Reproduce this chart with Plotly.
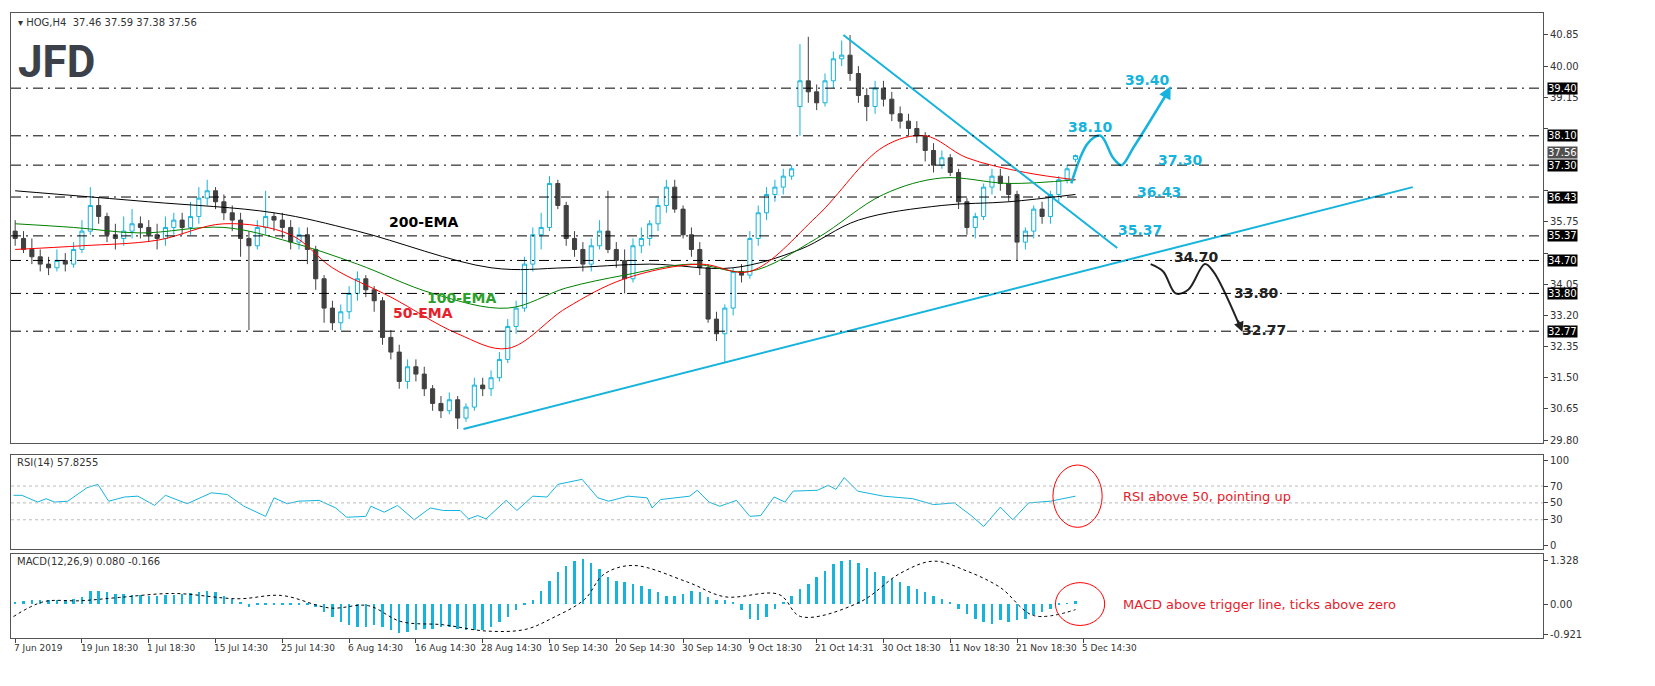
import plotly.graph_objects as go

# HOG H4 candles (bar index 0..127)
opens = [35.5, 35.3, 35.0, 34.8, 34.6, 34.5, 34.7, 34.6,
         35.0, 35.5, 36.2, 35.9, 35.4, 35.3, 35.5, 35.7,
         35.6, 35.4, 35.3, 35.6, 35.8, 35.6, 35.9, 36.4,
         36.6, 36.3, 36.0, 35.8, 35.3, 35.1, 35.6, 35.9,
         35.8, 35.6, 35.2, 35.4, 35.0, 34.2, 33.4, 33.0,
         33.3, 33.8, 34.2, 33.9, 33.6, 32.6, 32.2, 31.4,
         31.8, 31.6, 31.2, 30.8, 30.6, 30.9, 30.4, 30.7,
         31.3, 31.2, 31.5, 32.0, 32.9, 33.4, 34.6, 35.4,
         35.6, 36.8, 36.2, 35.3, 35.0, 34.6, 35.1, 35.5,
         35.0, 34.7, 34.2, 35.1, 35.3, 35.7, 36.2, 36.7,
         36.1, 35.4, 35.0, 34.5, 33.1, 32.7, 33.4, 34.4,
         34.3, 35.3, 36.0, 36.5, 36.7, 37.0, 38.9, 39.6,
         39.3, 39.0, 39.6, 40.2, 40.3, 39.8, 39.2, 38.9,
         39.4, 39.1, 38.7, 38.5, 38.3, 38.1, 37.7, 37.3,
         37.5, 37.1, 36.3, 35.6, 35.9, 36.7, 37.0, 36.8,
         36.5, 35.2, 35.5, 36.1, 35.9, 36.5, 36.9, 37.46]
highs = [35.8, 35.5, 35.3, 35.0, 34.8, 35.0, 34.9, 35.2,
         35.8, 36.7, 36.4, 36.0, 35.7, 35.9, 36.1, 35.9,
         35.8, 35.7, 35.9, 36.0, 36.0, 36.3, 36.7, 36.9,
         36.7, 36.5, 36.2, 36.0, 35.5, 35.8, 36.6, 36.0,
         36.0, 35.8, 35.6, 35.6, 35.1, 34.3, 33.6, 33.5,
         34.0, 34.4, 34.3, 34.0, 33.7, 32.8, 32.4, 32.0,
         32.0, 31.8, 31.3, 31.0, 31.1, 31.0, 30.8, 31.5,
         31.5, 31.7, 32.2, 33.1, 33.6, 34.8, 35.6, 36.0,
         37.0, 36.9, 36.3, 35.5, 35.2, 35.3, 35.8, 36.6,
         35.2, 35.0, 35.3, 35.6, 35.8, 36.4, 36.9, 36.9,
         36.2, 35.6, 35.2, 34.6, 33.3, 33.5, 34.5, 34.6,
         35.5, 36.2, 36.7, 36.9, 37.2, 37.3, 40.6, 40.8,
         39.5, 39.8, 40.4, 40.7, 40.85, 40.0, 39.4, 39.6,
         39.6, 39.3, 38.9, 38.7, 38.5, 38.2, 37.9, 37.7,
         37.6, 37.2, 36.4, 36.0, 36.8, 37.2, 37.2, 37.0,
         36.6, 35.6, 36.2, 36.3, 36.6, 37.0, 37.3, 37.59]
lows = [35.1, 34.9, 34.6, 34.4, 34.3, 34.4, 34.4, 34.5,
        34.9, 35.4, 35.7, 35.2, 35.0, 35.1, 35.3, 35.3,
        35.2, 35.0, 35.1, 35.4, 35.4, 35.4, 35.7, 36.2,
        36.1, 35.8, 35.5, 34.8, 32.8, 35.0, 35.4, 35.5,
        35.3, 35.0, 35.0, 34.6, 33.9, 33.0, 32.8, 32.8,
        33.1, 33.6, 33.7, 33.3, 32.4, 32.0, 31.2, 31.2,
        31.4, 31.0, 30.6, 30.4, 30.5, 30.1, 30.3, 30.6,
        31.0, 31.0, 31.4, 31.9, 32.7, 33.3, 34.4, 35.0,
        35.5, 36.1, 35.1, 34.8, 34.4, 34.4, 35.0, 34.9,
        34.5, 33.8, 34.1, 34.9, 35.1, 35.5, 36.0, 36.0,
        35.3, 34.8, 34.3, 33.0, 32.5, 31.9, 33.2, 34.1,
        34.2, 35.1, 35.8, 36.3, 36.5, 36.9, 38.1, 39.0,
        38.8, 38.9, 39.4, 40.0, 39.6, 39.0, 38.5, 38.7,
        38.9, 38.5, 38.3, 38.1, 37.9, 37.4, 37.1, 37.2,
        37.0, 36.1, 35.4, 35.3, 35.8, 36.5, 36.6, 36.3,
        34.7, 35.0, 35.3, 35.7, 35.7, 36.3, 36.8, 37.38]
closes = [35.3, 35.0, 34.8, 34.6, 34.5, 34.7, 34.6, 35.0,
          35.5, 36.2, 35.9, 35.4, 35.3, 35.5, 35.7, 35.6,
          35.4, 35.3, 35.6, 35.8, 35.6, 35.9, 36.4, 36.6,
          36.3, 36.0, 35.8, 35.3, 35.1, 35.6, 35.9, 35.8,
          35.6, 35.2, 35.4, 35.0, 34.2, 33.4, 33.0, 33.3,
          33.8, 34.2, 33.9, 33.6, 32.6, 32.2, 31.4, 31.8,
          31.6, 31.2, 30.8, 30.6, 30.9, 30.4, 30.7, 31.3,
          31.2, 31.5, 32.0, 32.9, 33.4, 34.6, 35.4, 35.6,
          36.8, 36.2, 35.3, 35.0, 34.6, 35.1, 35.5, 35.0,
          34.7, 34.2, 35.1, 35.3, 35.7, 36.2, 36.7, 36.1,
          35.4, 35.0, 34.5, 33.1, 32.7, 33.4, 34.4, 34.3,
          35.3, 36.0, 36.5, 36.7, 37.0, 37.2, 39.6, 39.3,
          39.0, 39.6, 40.2, 40.3, 39.8, 39.2, 38.9, 39.4,
          39.1, 38.7, 38.5, 38.3, 38.1, 37.7, 37.3, 37.5,
          37.1, 36.3, 35.6, 35.9, 36.7, 37.0, 36.8, 36.5,
          35.2, 35.5, 36.1, 35.9, 36.5, 36.9, 37.2, 37.56]
bars = list(range(len(closes)))

# moving averages, read at sparse bars
ema200_x = [0, 16, 31, 41, 57, 66, 76, 86, 94, 101, 111, 119, 127]
ema200_y = [36.6, 36.3, 36.0, 35.5, 34.5, 34.5, 34.6, 34.5, 35.0, 35.8, 36.2, 36.3, 36.5]
ema100_x = [0, 7, 15, 25, 33, 41, 50, 59, 66, 73, 81, 88, 96, 104, 111, 119, 127]
ema100_y = [35.7, 35.6, 35.45, 35.6, 35.2, 34.6, 33.8, 33.4, 33.95, 34.3, 34.6, 34.4, 35.3, 36.5, 36.95, 36.8, 36.9]
ema50_x = [0, 8, 17, 25, 33, 38, 45, 53, 59, 66, 73, 82, 88, 96, 104, 109, 114, 121, 127]
ema50_y = [35.0, 35.1, 35.25, 35.7, 35.4, 34.5, 33.7, 32.7, 32.3, 33.4, 34.2, 34.6, 34.4, 35.9, 37.8, 38.1, 37.5, 37.1, 36.9]

# RSI(14), read at sparse bars
rsi_x = [-0.2, 0.8, 2.7, 3.7, 4.7, 6.3, 8.6, 9.9, 11.2, 13.1, 14.7, 16.7, 18.0, 20.6, 23.5, 25.4,
         27.4, 30.0, 31.0, 32.6, 33.9, 36.4, 38.4, 39.7, 42.0, 42.6, 44.2, 45.8, 47.8, 49.7, 51.3,
         53.3, 54.3, 55.4, 56.4, 58.8, 60.1, 62.0, 63.7, 65.0, 67.9, 69.8, 71.1, 73.4, 75.7, 76.3,
         77.3, 80.8, 81.7, 83.1, 84.4, 86.4, 88.0, 89.3, 90.9, 92.2, 93.2, 96.1, 97.4, 98.3, 99.3,
         100.9, 104.0, 107.5, 110.0, 112.5, 114.5, 116.0, 118.0, 119.5, 121.4, 124.0, 127.0]
rsi_y = [59, 59, 51, 55, 51, 52, 68, 72, 52, 57, 58, 47, 59, 49, 62, 60,
         46, 34, 56, 49, 52, 53, 44, 33, 34, 46, 39, 47, 30, 44, 41,
         41, 31, 35, 31, 53, 41, 58, 57, 72, 78, 56, 52, 58, 56, 44,
         54, 58, 65, 51, 46, 53, 34, 35, 57, 51, 64, 65, 71, 66, 80,
         64, 58, 55, 48, 50, 35, 22, 45, 30, 50, 52, 58]

# MACD(12,26,9): main histogram per bar, signal at sparse bars
macd_main = [0.05, 0.08, 0.10, 0.12, 0.12, 0.12, 0.12, 0.15,
             0.20, 0.38, 0.40, 0.35, 0.30, 0.30, 0.28, 0.28,
             0.25, 0.25, 0.27, 0.28, 0.30, 0.32, 0.35, 0.38,
             0.35, 0.25, 0.15, 0.05, -0.10, -0.05, -0.05, -0.05,
             -0.05, -0.05, -0.05, -0.05, -0.10, -0.25, -0.40, -0.55,
             -0.65, -0.70, -0.70, -0.65, -0.70, -0.80, -0.90, -0.85,
             -0.80, -0.75, -0.75, -0.70, -0.70, -0.75, -0.80, -0.80,
             -0.80, -0.70, -0.55, -0.40, -0.20, -0.05, 0.10, 0.40,
             0.70, 0.95, 1.15, 1.30, 1.35, 1.25, 1.05, 0.80,
             0.70, 0.65, 0.60, 0.55, 0.45, 0.35, 0.25, 0.25,
             0.30, 0.40, 0.35, 0.20, 0.10, 0.10, 0.05, -0.20,
             -0.45, -0.50, -0.40, -0.15, 0.05, 0.25, 0.45, 0.60,
             0.80, 1.00, 1.20, 1.30, 1.33, 1.25, 1.10, 0.95,
             0.85, 0.75, 0.65, 0.55, 0.45, 0.35, 0.25, 0.15,
             0.05, -0.15, -0.30, -0.45, -0.55, -0.60, -0.50, -0.55,
             -0.50, -0.45, -0.35, -0.25, -0.15, -0.05, 0.02, 0.08]
signal_x = [-0.2, 3.4, 7.9, 12.5, 19.0, 26.7, 31.9, 37.7, 42.3, 46.2, 51.3, 56.5, 61.1, 64.3,
            68.2, 70.5, 74.0, 80.5, 85.0, 91.5, 94.1, 101.1, 106, 110, 114, 118, 122, 127]
signal_y = [-0.38, 0.07, 0.10, 0.20, 0.32, 0.16, 0.26, -0.12, -0.05, -0.53, -0.63, -0.82, -0.77,
            -0.43, 0.14, 0.90, 1.17, 0.67, 0.22, 0.29, -0.38, 0.05, 0.93, 1.30, 1.0, 0.5, -0.35, -0.17]

levels = [39.40, 38.10, 37.30, 36.43, 35.37, 34.70, 33.80, 32.77]
price_ticks = [40.85, 40.00, 39.15, 38.30, 36.60, 35.75, 34.90, 34.05, 33.20, 32.35, 31.50, 30.65, 29.80]
hidden_ticks = [38.30, 36.60, 34.90]   # covered by the level boxes
date_labels = ["7 Jun 2019", "19 Jun 18:30", "1 Jul 18:30", "15 Jul 14:30", "25 Jul 14:30",
               "6 Aug 14:30", "16 Aug 14:30", "28 Aug 14:30", "10 Sep 14:30", "20 Sep 14:30",
               "30 Sep 14:30", "9 Oct 18:30", "21 Oct 14:31", "30 Oct 18:30", "11 Nov 18:30",
               "21 Nov 18:30", "5 Dec 14:30"]

CYAN = '#16b3dc'
DARK = '#404040'
FONT = 'DejaVu Sans'
XR = [-0.5, 183]

fig = go.Figure()

fig.add_trace(go.Candlestick(
    x=bars, open=opens, high=highs, low=lows, close=closes,
    increasing=dict(line=dict(color=CYAN, width=1), fillcolor='white'),
    decreasing=dict(line=dict(color=DARK, width=1), fillcolor=DARK),
    whiskerwidth=0, showlegend=False, xaxis='x', yaxis='y'))

for xs, ys, col in [(ema200_x, ema200_y, 'black'), (ema100_x, ema100_y, 'green'), (ema50_x, ema50_y, 'red')]:
    fig.add_trace(go.Scatter(x=xs, y=ys, mode='lines', line=dict(color=col, width=1, shape='spline'),
                             showlegend=False, xaxis='x', yaxis='y'))

# trend lines
fig.add_trace(go.Scatter(x=[99.2, 132], y=[40.85, 35.04], mode='lines',
                         line=dict(color=CYAN, width=2), showlegend=False))
fig.add_trace(go.Scatter(x=[53.7, 167.4], y=[30.1, 36.7], mode='lines',
                         line=dict(color=CYAN, width=2), showlegend=False))

# scenario paths
fig.add_trace(go.Scatter(x=[126.5, 128.5, 130, 131.5, 132.5, 134, 137.8],
                         y=[36.8, 37.9, 38.1, 37.5, 37.3, 37.8, 39.2], mode='lines',
                         line=dict(color=CYAN, width=2.5, shape='spline'), showlegend=False))
fig.add_trace(go.Scatter(x=[136, 137.5, 139, 140.5, 142.5, 143.5, 146.6],
                         y=[34.6, 34.4, 33.8, 33.9, 34.6, 34.4, 32.95], mode='lines',
                         line=dict(color='#222222', width=2, shape='spline'), showlegend=False))

# RSI
fig.add_trace(go.Scatter(x=rsi_x, y=rsi_y, mode='lines', line=dict(color=CYAN, width=1),
                         showlegend=False, xaxis='x2', yaxis='y2'))
# MACD
fig.add_trace(go.Bar(x=bars, y=macd_main, marker=dict(color=CYAN, line=dict(width=0)), width=0.3,
                     showlegend=False, xaxis='x3', yaxis='y3'))
fig.add_trace(go.Scatter(x=signal_x, y=signal_y, mode='lines', line=dict(color='black', width=1, dash='dot', shape='spline'),
                         showlegend=False, xaxis='x3', yaxis='y3'))

shapes = []
for lv in levels:
    shapes.append(dict(type='line', xref='x domain', yref='y', x0=0, x1=1, y0=lv, y1=lv,
                       line=dict(color='black', width=1, dash='10px,5px,2px,5px')))
for lv in [30, 50, 70]:
    shapes.append(dict(type='line', xref='x2 domain', yref='y2', x0=0, x1=1, y0=lv, y1=lv,
                       line=dict(color='#bbbbbb', width=1, dash='3px,3px')))
shapes.append(dict(type='circle', xref='x2', yref='y2', x0=124.3, x1=130.2, y0=21, y1=95,
                   line=dict(color='red', width=1)))
shapes.append(dict(type='circle', xref='x3', yref='y3', x0=124.6, x1=130.5, y0=-0.65, y1=0.65,
                   line=dict(color='red', width=1)))

ann = []
# arrow heads
ann.append(dict(x=138.4, y=39.45, ax=137.6, ay=39.1, xref='x', yref='y', axref='x', ayref='y',
                showarrow=True, arrowhead=2, arrowsize=1, arrowwidth=2.5, arrowcolor=CYAN, text=''))
ann.append(dict(x=147, y=32.75, ax=146.4, ay=33.1, xref='x', yref='y', axref='x', ayref='y',
                showarrow=True, arrowhead=2, arrowsize=1, arrowwidth=2, arrowcolor='#222222', text=''))

lbl_pos = {39.40: (135.6, 39.62, CYAN), 38.10: (128.8, 38.34, CYAN), 37.30: (139.6, 37.44, CYAN),
           36.43: (137.0, 36.57, CYAN), 35.37: (134.7, 35.53, CYAN), 34.70: (141.5, 34.79, '#222222'),
           33.80: (148.7, 33.81, '#222222'), 32.77: (149.6, 32.80, '#222222')}
for lv, (bx, by, col) in lbl_pos.items():
    ann.append(dict(x=bx, y=by, xref='x', yref='y', text=f'<b>{lv:.2f}</b>', showarrow=False,
                    font=dict(family=FONT, size=14, color=col)))
for txt, bx, by, col in [('200-EMA', 49, 35.75, 'black'), ('100-EMA', 53.5, 33.67, '#2ca02c'),
                         ('50-EMA', 48.8, 33.26, '#e8202a')]:
    ann.append(dict(x=bx, y=by, xref='x', yref='y', text=f'<b>{txt}</b>', showarrow=False,
                    font=dict(family=FONT, size=14, color=col)))

# right axis level boxes
for lv in levels:
    ann.append(dict(x=1, y=lv, xref='x domain', yref='y', text=f'{lv:.2f}', showarrow=False,
                    xanchor='left', xshift=4, bgcolor='black', borderpad=0,
                    font=dict(family=FONT, size=10, color='white')))
ann.append(dict(x=1, y=37.56, xref='x domain', yref='y', text='37.56', showarrow=False,
                xanchor='left', xshift=4, yshift=3, bgcolor='#505050', borderpad=0,
                font=dict(family=FONT, size=10, color='white')))

for k, lab in enumerate(date_labels):
    ann.append(dict(x=8 * k - 0.4, y=0, xref='x3', yref='paper', yanchor='top', yshift=-3, xanchor='left',
                    text=lab, showarrow=False, font=dict(family=FONT, size=9, color='#333333')))

ann.append(dict(x=0.003, y=1, xref='paper', yref='paper', xanchor='left', yanchor='top', yshift=-2,
                text='▾ HOG,H4  37.46 37.59 37.38 37.56', showarrow=False,
                font=dict(family=FONT, size=10, color='#333333')))
ann.append(dict(x=0.003, y=0.985, xref='paper', yref='paper', xanchor='left', yanchor='top', yshift=-12,
                text='<b>JFD</b>', showarrow=False, font=dict(family='Roboto', size=44, color='#3b4049')))
ann.append(dict(x=0, y=1, xref='x2 domain', yref='y2 domain', xanchor='left', yanchor='top', xshift=4,
                text='RSI(14) 57.8255', showarrow=False, font=dict(family=FONT, size=10, color='#333333')))
ann.append(dict(x=0, y=1, xref='x3 domain', yref='y3 domain', xanchor='left', yanchor='top', xshift=4,
                text='MACD(12,26,9) 0.080 -0.166', showarrow=False, font=dict(family=FONT, size=10, color='#333333')))
ann.append(dict(x=132.5, y=58, xref='x2', yref='y2', xanchor='left', text='RSI above 50, pointing up',
                showarrow=False, font=dict(family=FONT, size=13, color='#e8202a')))
ann.append(dict(x=132.5, y=0.0, xref='x3', yref='y3', xanchor='left',
                text='MACD above trigger line, ticks above zero',
                showarrow=False, font=dict(family=FONT, size=13, color='#e8202a')))

axis_common = dict(showgrid=False, zeroline=False, showline=True, mirror=True, linecolor='#555555', linewidth=1)
tickfont = dict(family=FONT, size=10, color='#333333')

fig.update_layout(
    width=1655, height=686, paper_bgcolor='white', plot_bgcolor='white',
    margin=dict(l=3, r=120, t=5, b=56),
    xaxis=dict(domain=[0, 1], range=XR, showticklabels=False, anchor='y',
               rangeslider=dict(visible=False), **axis_common),
    yaxis=dict(domain=[0.312, 1], range=[29.72, 41.45], side='right', anchor='x',
               tickvals=price_ticks,
               ticktext=['' if v in hidden_ticks else f'{v:.2f}' for v in price_ticks],
               ticks='outside', ticklen=4, tickfont=tickfont, **axis_common),
    xaxis2=dict(domain=[0, 1], range=XR, showticklabels=False, anchor='y2', matches='x', **axis_common),
    yaxis2=dict(domain=[0.142, 0.293], range=[-5, 107], side='right', anchor='x2',
                tickvals=[0, 30, 50, 70, 100], ticks='outside', ticklen=4, tickfont=tickfont, **axis_common),
    xaxis3=dict(domain=[0, 1], range=XR, anchor='y3', matches='x', tickvals=[8 * k for k in range(17)],
                showticklabels=False, ticks='outside', ticklen=4, **axis_common),
    yaxis3=dict(domain=[0, 0.134], range=[-1.03, 1.51], side='right', anchor='x3',
                tickvals=[1.328, 0, -0.921], ticktext=['1.328', '0.00', '-0.921'],
                ticks='outside', ticklen=4, tickfont=tickfont, **axis_common),
    shapes=shapes, annotations=ann, bargap=0,
)

fig.write_html("out.html")
